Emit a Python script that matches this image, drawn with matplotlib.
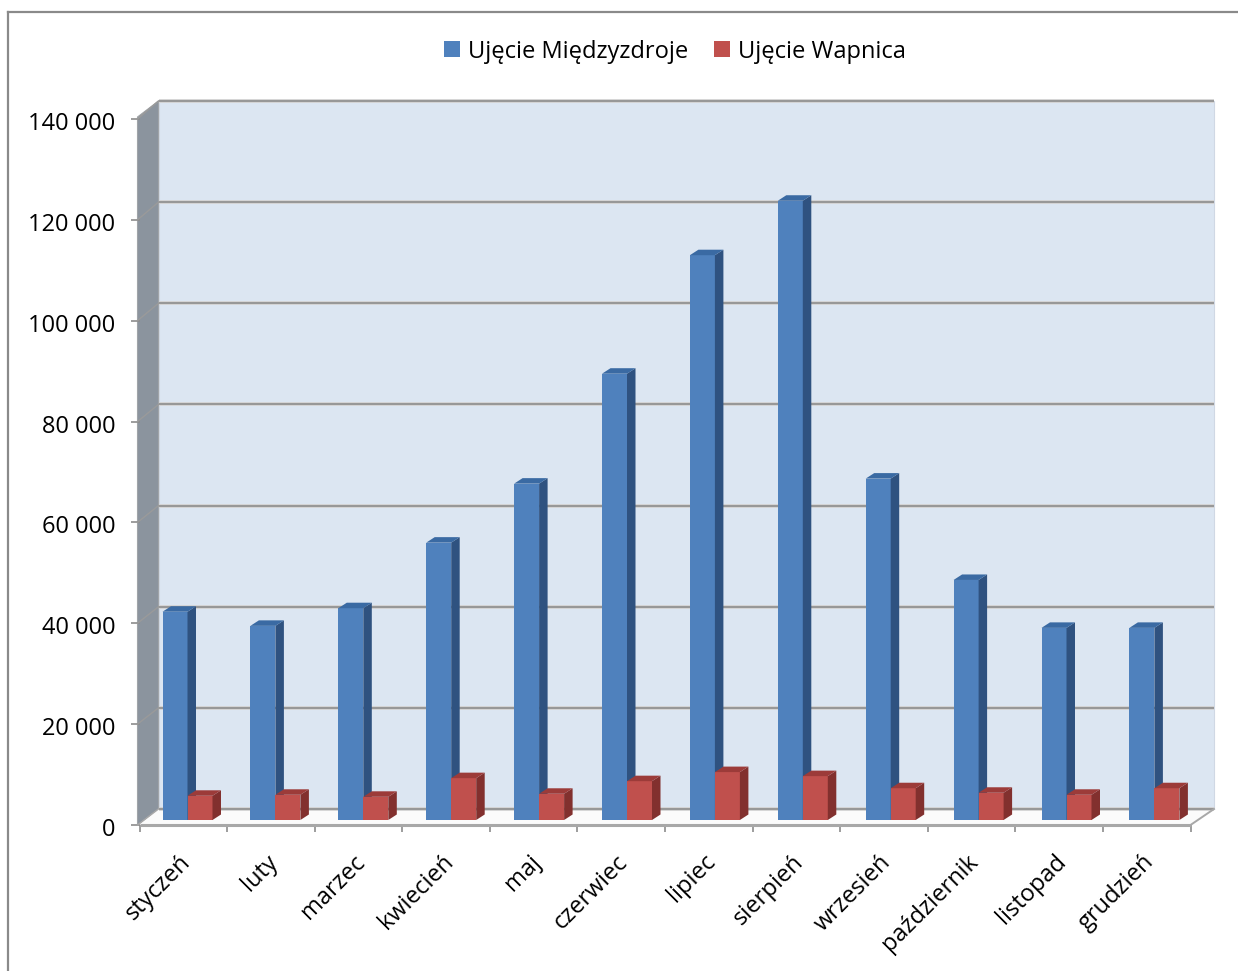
import matplotlib
matplotlib.use('Agg')
import matplotlib.pyplot as plt
from matplotlib.lines import Line2D
from matplotlib.patches import Polygon
from matplotlib.transforms import ScaledTranslation

plt.rcParams['font.family'] = ['Open Sans', 'DejaVu Sans']

# Data
months = ['styczeń', 'luty', 'marzec', 'kwiecień', 'maj', 'czerwiec', 'lipiec',
          'sierpień', 'wrzesień', 'październik', 'listopad', 'grudzień']
miedzyzdroje = [41300, 38500, 42000, 55000, 66700, 88500, 112000, 122800,
                67700, 47600, 38100, 38100]
wapnica = [4800, 5000, 4600, 8300, 5200, 7700, 9500, 8700, 6300, 5400, 5000, 6300]
y_ticks = [0, 20000, 40000, 60000, 80000, 100000, 120000, 140000]
y_labels = ['0', '20 000', '40 000', '60 000', '80 000', '100 000', '120 000', '140 000']

W, H = 1238, 971
X0, X1 = 139.5, 1190.5   # front edge of the floor, pixels
Y0, Y1 = 825.0, 119.0    # value 0 and 140 000 on the front edge
PX_X = (X1 - X0) / 12
PX_Y = (Y0 - Y1) / 140000


def dx(px):
    return px / PX_X


def dy(px):
    return px / PX_Y


def back_y(v):
    return v * 1.0029 + dy(16)


fig = plt.figure(figsize=(W / 100, H / 100), dpi=100)
ax = fig.add_axes([X0 / W, 1 - Y0 / H, (X1 - X0) / W, (Y0 - Y1) / H])
ax.set_xlim(0, 12)
ax.set_ylim(0, 140000)
ax.patch.set_visible(False)
for s in ax.spines.values():
    s.set_visible(False)

# walls and floor
back_l, back_r = dx(19), 12 + dx(23.5)
ax.add_patch(Polygon([(back_l, back_y(0)), (back_r, back_y(0)), (back_r, back_y(140000)),
                      (back_l, back_y(140000))], fc='#dce6f2', ec='#d0d8e4', lw=0.8,
                     zorder=1, clip_on=False))
ax.add_patch(Polygon([(dx(-2), 0), (back_l, back_y(0)), (back_l, back_y(140000)),
                      (dx(-2), 140000 + dy(2))], fc='#8b949e', ec='#a0a4a8', lw=0.8,
                     zorder=1, clip_on=False))
ax.add_patch(Polygon([(0, 0), (12, 0), (back_r, back_y(0)), (back_l, back_y(0))],
                     fc='#fbfbfb', ec='none', zorder=1, clip_on=False))

# gridlines on the wall
for v in y_ticks:
    ax.plot([back_l, back_r], [back_y(v), back_y(v)], color='#d4d4d4', lw=2.8,
            zorder=2, clip_on=False, solid_capstyle='butt')
    ax.plot([back_l, back_r], [back_y(v), back_y(v)], color='#979797', lw=1.4,
            zorder=2, clip_on=False, solid_capstyle='butt')
    if v > 0:
        ax.plot([dx(-2), back_l], [v, back_y(v)], color='#9a9a9a', lw=1, zorder=2, clip_on=False)
ax.plot([0, 12], [0, 0], color='#a8a8a8', lw=2.2, zorder=2, clip_on=False, solid_capstyle='butt')
ax.plot([dx(-2), back_l], [0, back_y(0)], color='#a8a8a8', lw=1, zorder=2, clip_on=False)
ax.plot([12, back_r], [0, back_y(0)], color='#a8a8a8', lw=1.4, zorder=2, clip_on=False)


def draw_series(values, shift, front, side, top, label, z):
    # shift = left edge of the face inside the category, in pixels
    for i, v in enumerate(values):
        left = (i * 87.9 + shift) / PX_X
        w = 25 / PX_X
        base = dy(5)
        ddx, ddy = dx(8.5), dy(5.5)
        ax.bar(left, v, width=w, bottom=base, align='edge', color=front, zorder=z + i * 0.01,
               clip_on=False, label=label if i == 0 else None)
        ax.add_patch(Polygon([(left + w, base), (left + w + ddx, base + ddy),
                              (left + w + ddx, base + v + ddy), (left + w, base + v)],
                             fc=side, ec='none', zorder=z + i * 0.01, clip_on=False))
        ax.add_patch(Polygon([(left, base + v), (left + w, base + v),
                              (left + w + ddx, base + v + ddy), (left + ddx, base + v + ddy)],
                             fc=top, ec='none', zorder=z + i * 0.01, clip_on=False))


draw_series(miedzyzdroje, 23, '#4f81bd', '#2f5280', '#3a6aa3', 'Ujęcie Międzyzdroje', 3)
draw_series(wapnica, 48, '#c0504d', '#82302e', '#9c3b39', 'Ujęcie Wapnica', 4)

# axes ticks
ax.set_yticks(y_ticks)
ax.set_yticklabels(y_labels, fontsize=17, color='black')
ax.tick_params(axis='y', length=6.5, width=1.2, color='#8c8c8c', pad=11)
for t in ax.get_yticklabels():
    t.set_transform(t.get_transform() + ScaledTranslation(0, -2 / 100, fig.dpi_scale_trans))
ax.set_xticks(range(13))
ax.set_xticklabels([])
ax.tick_params(axis='x', which='major', length=5, width=1.2, color='#8c8c8c')
ax.set_xticks([i + 0.5 for i in range(12)], minor=True)
ax.set_xticklabels(months, minor=True, fontsize=17, rotation=45, ha='right',
                   va='top', rotation_mode='anchor')
ax.tick_params(axis='x', which='minor', length=0, pad=18)
for t in ax.get_xticklabels(minor=True):
    t.set_transform(t.get_transform() + ScaledTranslation(-5 / 100, 0, fig.dpi_scale_trans))

handles, labels = ax.get_legend_handles_labels()
fig.legend(handles, labels, loc='center', bbox_to_anchor=(675 / W, 1 - 51.5 / H), ncol=2,
           frameon=False, fontsize=17, handlelength=0.68, handleheight=0.65,
           handletextpad=0.33, columnspacing=1.1)

# outer frame, only top and left are on the picture
fig.add_artist(Line2D([8 / W, 8 / W], [0, 1 - 12 / H], color='#8a8a8a', lw=1.6))
fig.add_artist(Line2D([8 / W, 1], [1 - 12 / H, 1 - 12 / H], color='#8a8a8a', lw=1.6))

fig.savefig('out.png', dpi=100)
